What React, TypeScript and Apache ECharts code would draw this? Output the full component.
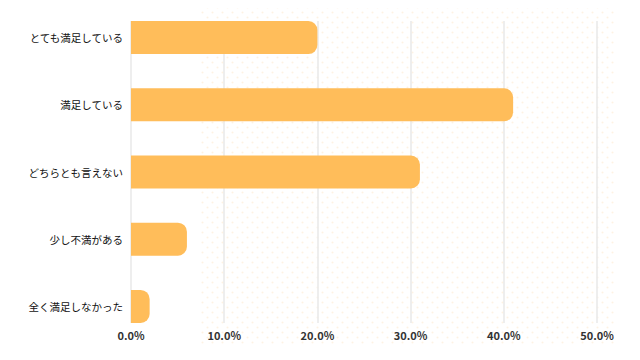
import React, { useEffect, useRef } from "react";
import * as echarts from "echarts";

const categories = [
  "とても満足している",
  "満足している",
  "どちらとも言えない",
  "少し不満がある",
  "全く満足しなかった",
];
const values = [20.0, 41.0, 31.0, 6.0, 2.0];
const xTicks = [0, 10, 20, 30, 40, 50];

function makeDotPattern(): string {
  const c = document.createElement("canvas");
  c.width = 10;
  c.height = 10;
  const ctx = c.getContext("2d");
  if (ctx) {
    ctx.fillStyle = "rgba(252,226,190,0.45)";
    ctx.beginPath();
    ctx.arc(2.5, 2.5, 1, 0, Math.PI * 2);
    ctx.fill();
    ctx.beginPath();
    ctx.arc(7.5, 7.5, 1, 0, Math.PI * 2);
    ctx.fill();
  }
  return c.toDataURL();
}

export default function App() {
  const ref = useRef<HTMLDivElement>(null);
  useEffect(() => {
    if (!ref.current) return;
    const chart = echarts.init(ref.current, undefined, { renderer: "svg" });
    const font = "'Noto Sans CJK JP', 'Noto Sans', sans-serif";
    chart.setOption({
      animation: false,
      backgroundColor: "#ffffff",
      graphic: [
        {
          type: "rect",
          z: -10,
          silent: true,
          shape: { x: 200, y: 6, width: 415, height: 340 },
          style: {
            fill: {
              image: makeDotPattern(),
              repeat: "repeat",
              imageWidth: 10,
              imageHeight: 10,
            } as any,
          },
        },
      ],
      grid: [
        { left: 131, right: 43, top: 4, height: 336, containLabel: false },
        { left: 131, right: 43, top: 21, height: 302, containLabel: false },
      ],
      xAxis: [
        {
          gridIndex: 0,
          type: "value",
          min: 0,
          max: 50,
          interval: 10,
          show: false,
          splitLine: { show: false },
        },
        {
          gridIndex: 1,
          type: "value",
          min: xTicks[0],
          max: xTicks[xTicks.length - 1],
          interval: 10,
          axisLine: { show: false },
          axisTick: { show: false },
          axisLabel: {
            margin: 6,
            color: "#333333",
            fontSize: 11,
            fontWeight: "bold",
            fontFamily: font,
            formatter: (v: number) => v.toFixed(1) + "%",
          },
          splitLine: { show: true, lineStyle: { color: "#e8e8e8", width: 1.5 } },
        },
      ],
      yAxis: [
        {
          gridIndex: 0,
          type: "category",
          data: categories,
          inverse: true,
          axisLine: { show: false },
          axisTick: { show: false },
          splitLine: { show: false },
          axisLabel: {
            margin: 8,
            color: "#111111",
            fontSize: 10.5,
            fontFamily: font,
          },
        },
        {
          gridIndex: 1,
          type: "value",
          show: false,
          min: 0,
          max: 1,
          splitLine: { show: false },
        },
      ],
      series: [
        {
          type: "bar",
          xAxisIndex: 0,
          yAxisIndex: 0,
          data: values,
          barWidth: 33,
          z: 5,
          itemStyle: { color: "#ffbd5a", borderRadius: [0, 9, 9, 0] },
        },
      ],
    });
    return () => chart.dispose();
  }, []);
  return <div ref={ref} style={{ width: 640, height: 360, margin: -8 }} />;
}
